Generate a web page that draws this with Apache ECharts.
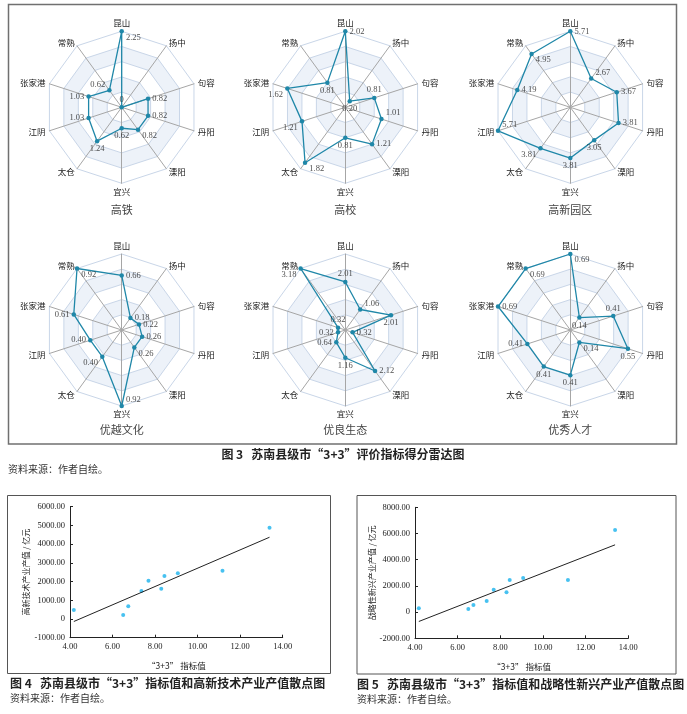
<!DOCTYPE html>
<html><head><meta charset="utf-8">
<script src="https://cdn.jsdelivr.net/npm/echarts@6/dist/echarts.min.js"></script>
<style>html,body{margin:0;padding:0;background:#fff}#c{width:687px;height:714px}</style>
</head><body><div id="c"></div>
<script>
// ---------- DATA ----------
// radar axis order (counter-clockwise from top, as ECharts lays them out)
const cities = ['昆山','常熟','张家港','江阴','太仓','宜兴','溧阳','丹阳','句容','扬中'];
const radarTitles = ['高铁','高校','高新园区','优越文化','优良生态','优秀人才'];
const gaotie   = [2.25,0.62,1.03,1.03,1.24,0.62,0.82,0.82,0.82,0];
const gaoxiao  = [2.02,0.81,1.62,1.21,1.82,0.81,1.21,1.01,0.81,0.20];
const gaoxinyuanqu = [5.71,4.95,4.19,5.71,3.81,3.81,3.05,3.81,3.67,2.67];
const youyuewenhua = [0.66,0.92,0.61,0.40,0.40,0.92,0.26,0.26,0.22,0.18];
const youliangshengtai = [2.01,3.18,0.32,0.32,0.64,1.16,2.12,0.32,2.01,1.06];
const youxiurencai = [0.69,0.69,0.69,0.41,0.41,0.41,0.14,0.55,0.41,0.14];
const radarValues = [gaotie, gaoxiao, gaoxinyuanqu, youyuewenhua, youliangshengtai, youxiurencai];

// scatter data: "3+3" index value vs output value (亿元)
const indexValues = [4.18,6.50,6.74,7.36,7.69,8.29,8.44,9.07,11.17,13.38];
const hiTechOutput = [480,212,677,1496,2048,1620,2297,2440,2582,4880];
const emergingOutput = [290,239,545,850,1715,1511,2453,2606,2453,6270];
const xTicks = [4,6,8,10,12,14];

// ---------- STYLE / LAYOUT ----------
const labelPlace = [
  ['rb','lt','l','l','b','b','rb','r','r','t'],
  ['r','b','lb','lb','rb','b','r','rt','t','b'],
  ['r','rb','r','rt','lb','b','b','r','r','rt'],
  ['r','rb','l','l','lb','rt','rb','r','r','r'],
  ['t','lb','t','l','l','b','r','r','b','rt'],
  ['rb','rb','r','l','b','b','rb','b','t','b']
];
const placeMap = {
  r:{position:'right',distance:2},
  l:{position:'left',distance:2},
  t:{position:'top',distance:1},
  b:{position:'bottom',distance:1},
  rb:{position:'right',distance:2,offset:[0,6]},
  lb:{position:'left',distance:2,offset:[0,6]},
  rt:{position:'right',distance:2,offset:[0,-6]},
  lt:{position:'left',distance:2,offset:[0,-6]}
};
const centersX = [121.7, 345.3, 570.3];
const centersY = [107.3, 330];
const R = 76;
const lineColor = '#1f87a8';
const cjk = 'Noto Sans CJK SC';
const serif = 'Liberation Serif';

function fmt(v){ return v === 0 ? '0' : v.toFixed(2); }
function regress(xs, ys){
  const n = xs.length;
  const mx = xs.reduce((a,b)=>a+b,0)/n, my = ys.reduce((a,b)=>a+b,0)/n;
  let sxy=0, sxx=0;
  for(let i=0;i<n;i++){ sxy += (xs[i]-mx)*(ys[i]-my); sxx += (xs[i]-mx)*(xs[i]-mx); }
  const k = sxy/sxx, b = my - k*mx;
  const x0 = Math.min(...xs), x1 = Math.max(...xs);
  return [[x0, k*x0+b],[x1, k*x1+b]];
}

const radars=[], polars=[], angleAxes=[], radiusAxes=[], series=[], titles=[];
radarValues.forEach((vals,i)=>{
  const cx = centersX[i%3], cy = centersY[Math.floor(i/3)];
  const mx = Math.max(...vals);
  radars.push({
    center:[cx,cy], radius:R, startAngle:90, splitNumber:5, shape:'polygon',
    indicator: cities.map(n=>({name:n, min:0, max:mx})),
    nameGap:4,
    axisName:{color:'#222', fontSize:8.5, fontFamily:cjk},
    splitLine:{lineStyle:{color:'#c9d6e8', width:1}},
    splitArea:{show:true, areaStyle:{color:['rgba(255,255,255,0)','#edf2f9']}},
    axisLine:{lineStyle:{color:'#a6a6a6', width:1}}
  });
  polars.push({center:[cx,cy], radius:R});
  angleAxes.push({polarIndex:i, type:'category', data:cities, startAngle:90, clockwise:false, boundaryGap:false,
    axisLine:{show:false}, axisTick:{show:false}, axisLabel:{show:false}, splitLine:{show:false}, splitArea:{show:false}});
  radiusAxes.push({polarIndex:i, type:'value', min:0, max:mx,
    axisLine:{show:false}, axisTick:{show:false}, axisLabel:{show:false}, splitLine:{show:false}, splitArea:{show:false}});
  series.push({
    type:'radar', radarIndex:i, symbol:'circle', symbolSize:4.5,
    lineStyle:{color:lineColor, width:1.3}, itemStyle:{color:lineColor},
    data:[{value:vals, name:radarTitles[i]}]
  });
  series.push({
    type:'scatter', coordinateSystem:'polar', polarIndex:i, symbolSize:4.5,
    itemStyle:{color:'rgba(0,0,0,0)'}, silent:true,
    data: vals.map((v,j)=>{
      const p = placeMap[labelPlace[i][j]];
      return {value:[v,j], label:Object.assign({show:true, formatter:fmt(v), fontSize:8.5, fontFamily:serif, color:'#1a1a1a'}, p)};
    })
  });
  titles.push({text:radarTitles[i], left:cx, top:(i<3?204.5:424.5), textAlign:'center', padding:0,
    textStyle:{fontSize:11, fontWeight:'normal', fontFamily:cjk, color:'#444'}});
});

titles.push(
  {text:'图 3   苏南县级市“3+3”评价指标得分雷达图', left:343, top:448, textAlign:'center', padding:0,
    textStyle:{fontSize:12, fontWeight:'bold', fontFamily:cjk, color:'#222'}},
  {text:'资料来源：作者自绘。', left:8, top:464.5, padding:0,
    textStyle:{fontSize:10, fontWeight:'normal', fontFamily:cjk, color:'#333'}},
  {text:'图 4   苏南县级市“3+3”指标值和高新技术产业产值散点图', left:10, top:677, padding:0,
    textStyle:{fontSize:12, fontWeight:'bold', fontFamily:cjk, color:'#222'}},
  {text:'资料来源：作者自绘。', left:10, top:693.5, padding:0,
    textStyle:{fontSize:10, fontWeight:'normal', fontFamily:cjk, color:'#333'}},
  {text:'图 5   苏南县级市“3+3”指标值和战略性新兴产业产值散点图', left:357, top:678, padding:0,
    textStyle:{fontSize:12, fontWeight:'bold', fontFamily:cjk, color:'#222'}},
  {text:'资料来源：作者自绘。', left:357, top:694.5, padding:0,
    textStyle:{fontSize:10, fontWeight:'normal', fontFamily:cjk, color:'#333'}}
);

const grids = [
  {left:70, right:404.3, top:506.7, bottom:76.3},
  {left:415, right:58.7, top:507.3, bottom:75.7}
];
const axisLabelStyle = {fontSize:8.5, fontFamily:serif, color:'#222'};
function xAx(gi){ return {gridIndex:gi, type:'value', min:xTicks[0], max:xTicks[xTicks.length-1], interval:2,
  name:'“3+3” 指标值', nameLocation:'middle', nameGap:24, nameTextStyle:{fontSize:8.5, fontFamily:cjk, color:'#222'},
  axisLine:{onZero:false, lineStyle:{color:'#222', width:1}}, axisTick:{inside:true, length:3, lineStyle:{color:'#222'}},
  axisLabel:Object.assign({formatter:v=>v.toFixed(2), margin:5}, axisLabelStyle), splitLine:{show:false}}; }
function yAx(gi, mn, mx, iv, nm, gap){ return {gridIndex:gi, type:'value', min:mn, max:mx, interval:iv,
  name:nm, nameLocation:'middle', nameGap:gap, nameTextStyle:{fontSize:8, fontFamily:cjk, color:'#222'},
  axisLine:{show:true, onZero:false, lineStyle:{color:'#222', width:1}}, axisTick:{show:true, inside:true, length:3, lineStyle:{color:'#222'}},
  axisLabel:Object.assign({formatter:fmt, margin:5}, axisLabelStyle), splitLine:{show:false}}; }

series.push(
  {type:'scatter', xAxisIndex:0, yAxisIndex:0, symbol:'circle', symbolSize:4, itemStyle:{color:'#19b2ec'},
    data:indexValues.map((x,i)=>[x, hiTechOutput[i]])},
  {type:'line', xAxisIndex:0, yAxisIndex:0, symbol:'none', lineStyle:{color:'#222', width:1}, data:regress(indexValues, hiTechOutput)},
  {type:'scatter', xAxisIndex:1, yAxisIndex:1, symbol:'circle', symbolSize:4, itemStyle:{color:'#19b2ec'},
    data:indexValues.map((x,i)=>[x, emergingOutput[i]])},
  {type:'line', xAxisIndex:1, yAxisIndex:1, symbol:'none', lineStyle:{color:'#222', width:1}, data:regress(indexValues, emergingOutput)}
);

const chart = echarts.init(document.getElementById('c'), null, {renderer:'canvas'});
chart.setOption({
  animation:false,
  backgroundColor:'#fff',
  title:titles,
  radar:radars,
  polar:polars,
  angleAxis:angleAxes,
  radiusAxis:radiusAxes,
  grid:grids,
  xAxis:[xAx(0), xAx(1)],
  yAxis:[yAx(0,-1000,6000,1000,'高新技术产业产值 / 亿元',40), yAx(1,-2000,8000,2000,'战略性新兴产业产值 / 亿元',37)],
  series:series,
  graphic:[
    {type:'rect', shape:{x:8.5,y:4.5,width:668,height:439.5}, style:{fill:'none', stroke:'#707070', lineWidth:1.5}, silent:true},
    {type:'rect', shape:{x:7.5,y:495.5,width:323,height:178}, style:{fill:'none', stroke:'#555', lineWidth:1}, silent:true},
    {type:'rect', shape:{x:357,y:495.5,width:319,height:178.5}, style:{fill:'none', stroke:'#555', lineWidth:1}, silent:true}
  ]
});
</script></body></html>
